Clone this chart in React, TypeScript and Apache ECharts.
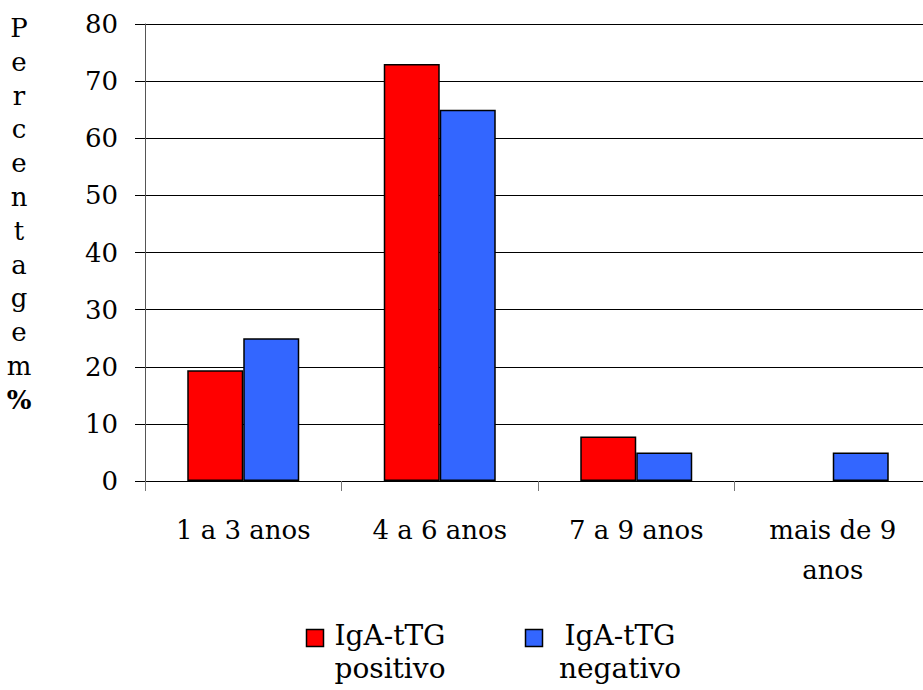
import React, { useEffect, useRef } from "react";
import * as echarts from "echarts";

const categories = ["1 a 3 anos", "4 a 6 anos", "7 a 9 anos", "mais de 9 anos"];
const positivo = [19.4, 73, 7.8, 0];
const negativo = [25, 65, 5, 5];
const seriesNames = ["IgA-tTG positivo", "IgA-tTG negativo"];
const yTicks = [0, 10, 20, 30, 40, 50, 60, 70, 80];
const yTitleLetters = ["P", "e", "r", "c", "e", "n", "t", "a", "g", "e", "m"];

const FONT = "DejaVu Serif";
const RED = "#FF0000";
const BLUE = "#3366FF";

const toBarData = (arr: number[]) =>
  arr.map((v) => (v === 0 ? { value: v, itemStyle: { borderWidth: 0 } } : v));

export default function App() {
  const ref = useRef<HTMLDivElement>(null);
  useEffect(() => {
    if (!ref.current) return;
    const chart = echarts.init(ref.current, null, { renderer: "svg" });
    const legendItem = (color: string, sx: number, tx: number, name: string) => {
      const parts = name.split(" ");
      return [
        {
          type: "rect",
          shape: { x: sx, y: 629.5, width: 17, height: 17 },
          style: { fill: color, stroke: "#000", lineWidth: 1.5 },
        },
        {
          type: "text",
          x: tx,
          y: 619,
          style: {
            text: parts[0] + "\n" + parts.slice(1).join(" "),
            fontSize: 28,
            fontFamily: FONT,
            lineHeight: 33,
            align: "center",
            verticalAlign: "top",
            fill: "#000",
          },
        },
      ];
    };
    chart.setOption({
      animation: false,
      textStyle: { fontFamily: FONT },
      grid: { left: 145, top: 24, width: 786, bottom: 209, containLabel: false },
      xAxis: {
        type: "category",
        data: categories,
        axisLine: { show: true, lineStyle: { color: "#000", width: 1 } },
        axisTick: { show: true, length: 10, lineStyle: { color: "#777" } },
        axisLabel: {
          margin: 29,
          color: "#000",
          fontFamily: FONT,
          fontSize: 26,
          lineHeight: 40,
          interval: 0,
          formatter: (v: string) => (v === "mais de 9 anos" ? "mais de 9\nanos" : v),
        },
      },
      yAxis: {
        type: "value",
        min: yTicks[0],
        max: yTicks[yTicks.length - 1],
        interval: 10,
        axisLine: { show: true, lineStyle: { color: "#555", width: 1 } },
        axisTick: { show: true, length: 10, inside: false, lineStyle: { color: "#000" } },
        splitLine: { show: true, lineStyle: { color: "#000", width: 1 } },
        axisLabel: {
          margin: 27,
          color: "#000",
          fontFamily: FONT,
          fontSize: 26,
        },
      },
      series: [
        {
          name: seriesNames[0],
          type: "bar",
          data: toBarData(positivo),
          barWidth: 56,
          barGap: "0%",
          itemStyle: { color: RED, borderColor: "#000", borderWidth: 1.5 },
        },
        {
          name: seriesNames[1],
          type: "bar",
          data: toBarData(negativo),
          barWidth: 56,
          barGap: "0%",
          itemStyle: { color: BLUE, borderColor: "#000", borderWidth: 1.5 },
        },
      ],
      graphic: [
        {
          type: "text",
          x: 19,
          y: 11,
          style: {
            text: yTitleLetters.join("\n") + "\n{b|%}",
            fontSize: 26,
            fontFamily: FONT,
            lineHeight: 33.8,
            align: "center",
            verticalAlign: "top",
            fill: "#000",
            rich: {
              b: { fontWeight: "bold", fontSize: 26, fontFamily: FONT, lineHeight: 33.8, fill: "#000" },
            },
          },
        },
        ...legendItem(RED, 306.5, 390, seriesNames[0]),
        ...legendItem(BLUE, 525.5, 620, seriesNames[1]),
      ],
    });
    return () => chart.dispose();
  }, []);
  return (
    <div
      ref={ref}
      style={{ position: "fixed", left: 0, top: 0, width: 940, height: 690, background: "#fff" }}
    />
  );
}
